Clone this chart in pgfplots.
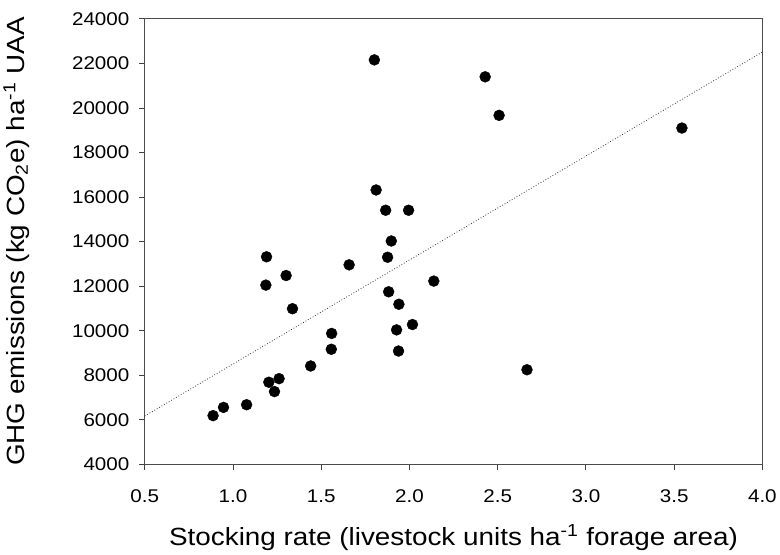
\documentclass[border=0pt]{standalone}
\usepackage{fontspec}
\setmainfont{Liberation Sans}[FakeStretch=1.12]
\usepackage{pgfplots}
\pgfplotsset{compat=1.18}

\pgfplotstableread{
x     y
0.887 6190
0.946 6560
1.077 6680
1.190 13320
1.186 12050
1.203 7690
1.235 7270
1.261 7850
1.301 12480
1.337 10990
1.440 8420
1.559 9880
1.557 9170
1.658 12960
1.897 14030
1.876 13300
1.882 11750
1.940 11190
1.927 10040
1.938 9090
2.017 10280
2.138 12230
1.801 22160
1.811 16320
1.865 15410
1.995 15410
2.429 21400
2.508 19670
3.544 19100
2.666 8250
}\farms

\begin{document}
\begin{tikzpicture}[x=1pt,y=1pt]
\path (-142.3,-91) rectangle (637.7,467);
\begin{axis}[
  at={(0,0)}, anchor=south west,
  scale only axis, width=621pt, height=448pt,
  xmin=0.5, xmax=4.0, ymin=4000, ymax=24000,
  xtick={0.5,1.0,1.5,2.0,2.5,3.0,3.5,4.0},
  ytick={4000,6000,8000,10000,12000,14000,16000,18000,20000,22000,24000},
  xticklabel style={/pgf/number format/fixed, /pgf/number format/fixed zerofill,
    /pgf/number format/precision=1, yshift=-16pt},
  yticklabel style={/pgf/number format/fixed, /pgf/number format/1000 sep={}, xshift=-6pt},
  scaled y ticks=false,
  /pgf/number format/assume math mode=true,
  tick align=outside, xtick pos=bottom, ytick pos=left,
  major tick length=6pt,
  every tick/.style={line width=1pt, color=black!75},
  axis line style={line width=1.2pt, color=black!70},
  ticklabel style={font=\fontsize{18.5}{20}\selectfont},
  label style={font=\fontsize{25}{27}\selectfont},
  xlabel={Stocking rate (livestock units ha\textsuperscript{-1} forage area)},
  ylabel={GHG emissions (kg CO\textsubscript{2}e) ha\textsuperscript{-1} UAA},
  xlabel style={yshift=-15pt},
  ylabel style={yshift=36pt},
  clip=false,
]
\addplot[only marks, mark=*, mark size=5.5pt, mark options={fill=black, draw=black}] table[x=x, y=y] {\farms};
% least-squares trend line
\addplot[black!80, dotted, line width=0.8pt] coordinates {(0.5,6174) (4.0,22513)};
\end{axis}
\end{tikzpicture}
\end{document}
